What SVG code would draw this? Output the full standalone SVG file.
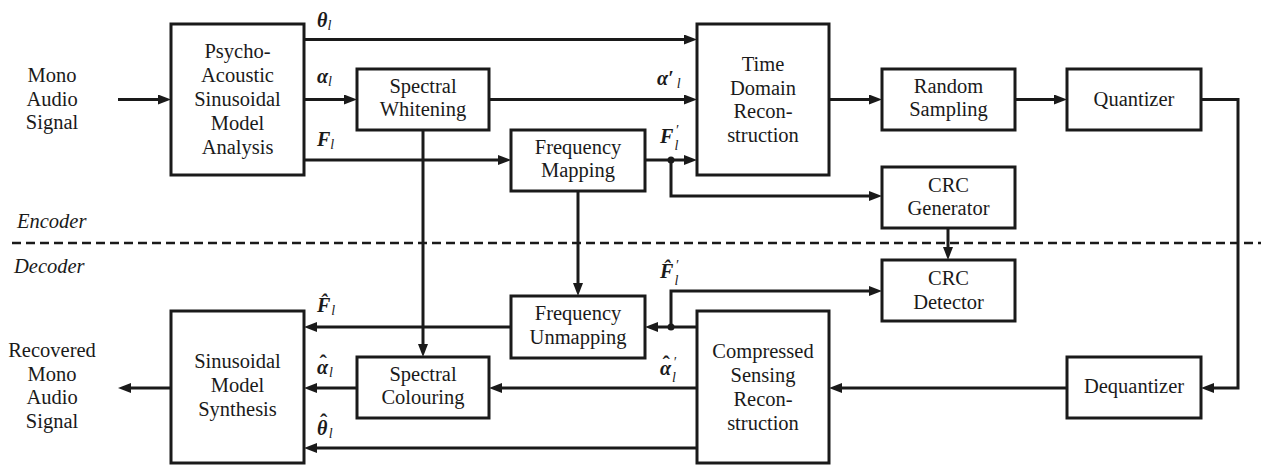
<svg xmlns="http://www.w3.org/2000/svg" width="1261" height="465" viewBox="0 0 1261 465" font-family="Liberation Serif, Tinos, Times New Roman, DejaVu Serif, Noto Serif, serif">
<style>
.box{fill:#fff;stroke:#1a1a1a;stroke-width:3}
.t{font-size:20.5px;fill:#1a1a1a;text-anchor:middle}
.it{font-size:20.5px;font-style:italic;fill:#1a1a1a}
.m{font-size:20px;font-weight:bold;font-style:italic;fill:#1a1a1a}
.s{font-size:14px;font-weight:normal;font-style:italic}
.h{font-size:22px;font-weight:bold;font-style:normal}
.c{fill:none;stroke:#1a1a1a;stroke-width:3}
.d{fill:#1a1a1a}
</style>
<defs>
<marker id="arr" viewBox="0 0 13 10" markerWidth="13" markerHeight="10" markerUnits="userSpaceOnUse" refX="8" refY="5" orient="auto">
<path d="M0,0 L13,5 L0,10 z" fill="#1a1a1a"/>
</marker>
</defs>

<line x1="12" y1="243" x2="1261" y2="243" stroke="#1a1a1a" stroke-width="2.7" stroke-dasharray="9 5"/>
<text class="it" x="17" y="228">Encoder</text>
<text class="it" x="14" y="273">Decoder</text>

<g id="connectors">
<path class="c" marker-end="url(#arr)" d="M118,99.5 H166"/>
<path class="c" marker-end="url(#arr)" d="M304,39.5 H692"/>
<path class="c" marker-end="url(#arr)" d="M304,99.5 H352"/>
<path class="c" marker-end="url(#arr)" d="M304,160 H506"/>
<path class="c" marker-end="url(#arr)" d="M489,99.5 H692"/>
<path class="c" marker-end="url(#arr)" d="M645,160 H692"/>
<path class="c" marker-end="url(#arr)" d="M671,160 V196 H877"/>
<path class="c" marker-end="url(#arr)" d="M829,99.5 H877"/>
<path class="c" marker-end="url(#arr)" d="M1015,99.5 H1062"/>
<path class="c" marker-end="url(#arr)" d="M1201,99.5 H1238 V388 H1206"/>
<path class="c" marker-end="url(#arr)" d="M948,228 V255"/>
<path class="c" marker-end="url(#arr)" d="M423,130 V352"/>
<path class="c" marker-end="url(#arr)" d="M578,191 V291"/>
<path class="c" marker-end="url(#arr)" d="M1067,388 H834"/>
<path class="c" marker-end="url(#arr)" d="M697,327 H650"/>
<path class="c" marker-end="url(#arr)" d="M671,327 V291 H877"/>
<path class="c" marker-end="url(#arr)" d="M511,327 H309"/>
<path class="c" marker-end="url(#arr)" d="M697,388 H494"/>
<path class="c" marker-end="url(#arr)" d="M357,388 H309"/>
<path class="c" marker-end="url(#arr)" d="M697,448 H309"/>
<path class="c" marker-end="url(#arr)" d="M171,388 H123"/>
<circle class="d" cx="671" cy="160" r="3.5"/>
<circle class="d" cx="671" cy="327" r="3.5"/>
</g>

<g id="labels">
<text class="m" x="317" y="27">θ<tspan class="s" dy="3">l</tspan></text>
<text class="m" x="317" y="83">α<tspan class="s" dy="3">l</tspan></text>
<text class="m" x="317" y="146">F<tspan class="s" dy="3">l</tspan></text>
<text class="m" x="657" y="85">α′<tspan class="s" dx="3" dy="3">l</tspan></text>
<text class="m" x="660" y="143">F<tspan class="s" dx="2" dy="-8">′</tspan><tspan class="s" dx="-4" dy="15">l</tspan></text>
<text class="m" x="317" y="312">F̂<tspan class="s" dx="1" dy="3">l</tspan></text>
<text class="m" x="317" y="374">α<tspan class="h" dx="-8.5" dy="-4">ˆ</tspan><tspan class="s" dx="2" dy="7">l</tspan></text>
<text class="m" x="317" y="435">θ<tspan class="h" dx="-7.5" dy="-6">ˆ</tspan><tspan class="s" dx="1.5" dy="9">l</tspan></text>
<text class="m" x="660" y="278">F̂<tspan class="s" dx="2" dy="-8">′</tspan><tspan class="s" dx="-4" dy="15">l</tspan></text>
<text class="m" x="660" y="375">α<tspan class="h" dx="-8.5" dy="-4">ˆ</tspan><tspan class="s" dx="3" dy="-4">′</tspan><tspan class="s" dx="-4" dy="15">l</tspan></text>
</g>

<g id="input">
<text class="t" x="52" y="82">Mono</text>
<text class="t" x="52" y="105.5">Audio</text>
<text class="t" x="52" y="129">Signal</text>
</g>
<g id="analysis">
<rect class="box" x="171" y="24" width="133" height="151"/>
<text class="t" x="237.5" y="57.5">Psycho-</text>
<text class="t" x="237.5" y="81.5">Acoustic</text>
<text class="t" x="237.5" y="105.5">Sinusoidal</text>
<text class="t" x="237.5" y="129.5">Model</text>
<text class="t" x="237.5" y="153.5">Analysis</text>
</g>
<g id="whitening">
<rect class="box" x="357" y="69" width="132" height="61"/>
<text class="t" x="423" y="93">Spectral</text>
<text class="t" x="423" y="116">Whitening</text>
</g>
<g id="mapping">
<rect class="box" x="511" y="130" width="134" height="61"/>
<text class="t" x="578" y="154">Frequency</text>
<text class="t" x="578" y="177">Mapping</text>
</g>
<g id="timedomain">
<rect class="box" x="697" y="24" width="132" height="151"/>
<text class="t" x="763" y="71">Time</text>
<text class="t" x="763" y="94.5">Domain</text>
<text class="t" x="763" y="118">Recon-</text>
<text class="t" x="763" y="141.5">struction</text>
</g>
<g id="sampling">
<rect class="box" x="882" y="69" width="133" height="61"/>
<text class="t" x="948.5" y="93">Random</text>
<text class="t" x="948.5" y="116">Sampling</text>
</g>
<g id="quantizer">
<rect class="box" x="1067" y="69" width="134" height="61"/>
<text class="t" x="1134" y="106">Quantizer</text>
</g>
<g id="crcgen">
<rect class="box" x="882" y="167" width="133" height="61"/>
<text class="t" x="948.5" y="192">CRC</text>
<text class="t" x="948.5" y="215">Generator</text>
</g>
<g id="crcdet">
<rect class="box" x="882" y="260" width="133" height="61"/>
<text class="t" x="948.5" y="285">CRC</text>
<text class="t" x="948.5" y="309">Detector</text>
</g>
<g id="unmapping">
<rect class="box" x="511" y="296" width="134" height="62"/>
<text class="t" x="578" y="320">Frequency</text>
<text class="t" x="578" y="344">Unmapping</text>
</g>
<g id="colouring">
<rect class="box" x="357" y="357" width="132" height="61"/>
<text class="t" x="423" y="381">Spectral</text>
<text class="t" x="423" y="404">Colouring</text>
</g>
<g id="dequantizer">
<rect class="box" x="1067" y="357" width="134" height="61"/>
<text class="t" x="1134" y="393">Dequantizer</text>
</g>
<g id="synthesis">
<rect class="box" x="171" y="311" width="133" height="152"/>
<text class="t" x="237.5" y="368">Sinusoidal</text>
<text class="t" x="237.5" y="392">Model</text>
<text class="t" x="237.5" y="416">Synthesis</text>
</g>
<g id="cs">
<rect class="box" x="697" y="311" width="132" height="152"/>
<text class="t" x="763" y="358">Compressed</text>
<text class="t" x="763" y="382">Sensing</text>
<text class="t" x="763" y="406">Recon-</text>
<text class="t" x="763" y="430">struction</text>
</g>
<g id="output">
<text class="t" x="52" y="357">Recovered</text>
<text class="t" x="52" y="380.5">Mono</text>
<text class="t" x="52" y="404">Audio</text>
<text class="t" x="52" y="427.5">Signal</text>
</g>
</svg>
